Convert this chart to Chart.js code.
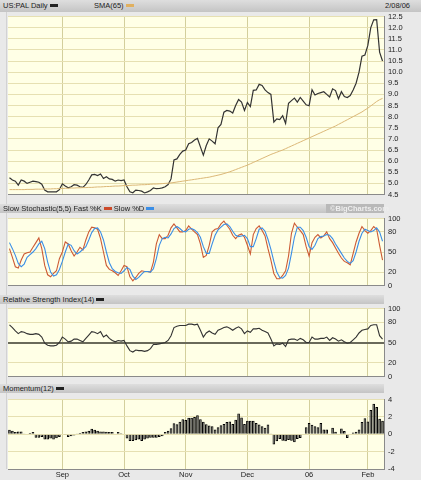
<!DOCTYPE html>
<html>
<head>
<meta charset="utf-8">
<script src="https://cdn.jsdelivr.net/npm/chart.js@4"></script>
<style>
  body { margin: 0; background: #e9e9e9; }
  #wrap { position: relative; width: 421px; height: 480px; overflow: hidden; background: #e9e9e9;
          font-family: "Liberation Sans", Arial, sans-serif; font-size: 7.5px; color: #222; }
  #wrap canvas { position: absolute; left: 8px; }
  .hdr { position: absolute; left: 0; height: 9px; line-height: 9px; padding-left: 3px; box-sizing: border-box;
         background: linear-gradient(#dedede, #c4c4c4); white-space: nowrap; z-index: 2; }
  .sw { display: inline-block; width: 8px; height: 3px; vertical-align: middle; margin: 0 2px 1px 2px; }
  .strip { position: absolute; left: 6px; top: 12px; width: 1px; height: 457px; background: #d2d2d2; }
</style>
</head>
<body>
<div id="wrap">
  <div class="strip"></div>
  <div class="hdr" style="top:0;height:12px;line-height:12px;width:421px;">US:PAL Daily<span class="sw" style="background:#222"></span>
    <span style="position:absolute;left:94px;">SMA(65)<span class="sw" style="background:#e0b060"></span></span>
    <span style="position:absolute;left:385px;">2/08/06</span></div>
  <div class="hdr" style="top:204px;width:384px;">Slow Stochastic(5,5) Fast %K<span class="sw" style="background:#cc4a2a"></span>Slow %D<span class="sw" style="background:#3a8ee6"></span>
    <span style="position:absolute;left:326px;top:0;width:58px;height:9px;background:#b9b9b9;color:#eee;font-weight:bold;padding-left:4px;box-sizing:border-box;">©BigCharts.com</span></div>
  <div class="hdr" style="top:295px;width:384px;">Relative Strength Index(14)<span class="sw" style="background:#222"></span></div>
  <div class="hdr" style="top:384px;width:384px;">Momentum(12)<span class="sw" style="background:#222"></span></div>

  <canvas id="price" width="413" height="195" style="top:8px"></canvas>
  <canvas id="stoch" width="413" height="84" style="top:210px"></canvas>
  <canvas id="rsi" width="413" height="85" style="top:300px"></canvas>
  <canvas id="mom" width="413" height="89" style="top:391px"></canvas>
</div>
<script>
// month grid lines sit on these trading-day indexes (Aug 8 2005 = 0 ... Feb 8 2006 = 127)
const monthStarts = [18, 39, 60, 81, 102, 122];
const monthLabels = ['Sep', 'Oct', 'Nov', 'Dec', '06', 'Feb'];

const price = [
  5.25, 5.15, 5.10, 4.92, 5.15, 5.10, 5.00, 5.05, 5.10, 5.08,
  5.05, 4.96, 4.70, 4.62, 4.62, 4.62, 4.62, 4.72, 4.98, 4.88,
  4.80, 4.85, 4.94, 4.92, 4.85, 4.82, 4.95, 5.15, 5.38, 5.40,
  5.35, 5.42, 5.22, 5.30, 5.20, 5.18, 5.10, 5.15, 5.12, 5.15,
  4.85, 4.62, 4.58, 4.70, 4.68, 4.65, 4.57, 4.62, 4.68, 4.80,
  4.76, 4.77, 4.80, 4.85, 4.95, 5.20, 6.05, 6.10, 6.30, 6.45,
  6.50, 6.78, 6.84, 6.95, 7.02, 6.64, 6.27, 6.70, 7.00, 6.90,
  6.78, 7.50, 7.65, 8.20, 8.28, 8.25, 8.16, 8.50, 8.77, 8.65,
  8.28, 8.63, 8.45, 9.18, 9.20, 9.45, 9.40, 9.20, 9.08, 9.00,
  7.75, 7.90, 7.87, 8.04, 7.70, 8.60, 8.72, 8.83, 8.65, 8.86,
  8.70, 8.53, 8.49, 9.21, 8.97, 9.04, 9.08, 9.12, 9.00, 8.88,
  9.25, 9.17, 8.80, 9.12, 8.90, 8.86, 8.95, 9.20, 9.50, 10.00,
  10.72, 10.77, 11.20, 12.00, 12.35, 12.36, 10.90, 10.50
];
const sma65 = [
  4.72, 4.72, 4.72, 4.72, 4.72, 4.72, 4.73, 4.73, 4.73, 4.74,
  4.74, 4.74, 4.75, 4.75, 4.75, 4.76, 4.76, 4.77, 4.77, 4.78,
  4.78, 4.79, 4.79, 4.80, 4.80, 4.81, 4.81, 4.82, 4.82, 4.83,
  4.84, 4.84, 4.85, 4.86, 4.86, 4.87, 4.88, 4.88, 4.89, 4.90,
  4.90, 4.91, 4.92, 4.92, 4.93, 4.94, 4.94, 4.95, 4.96, 4.97,
  4.97, 4.98, 4.99, 5.00, 5.01, 5.02, 5.04, 5.06, 5.08, 5.10,
  5.12, 5.14, 5.16, 5.18, 5.20, 5.22, 5.24, 5.26, 5.28, 5.31,
  5.34, 5.37, 5.40, 5.44, 5.48, 5.52, 5.57, 5.62, 5.67, 5.72,
  5.77, 5.82, 5.88, 5.94, 6.00, 6.06, 6.12, 6.18, 6.24, 6.30,
  6.35, 6.40, 6.45, 6.50, 6.56, 6.62, 6.68, 6.74, 6.80, 6.86,
  6.92, 6.98, 7.04, 7.10, 7.16, 7.22, 7.28, 7.34, 7.40, 7.46,
  7.52, 7.58, 7.65, 7.72, 7.79, 7.86, 7.93, 8.00, 8.07, 8.14,
  8.21, 8.30, 8.38, 8.48, 8.58, 8.68, 8.76, 8.82
];
const fastK = [
  55, 42, 28, 26, 38, 47, 49, 50, 57, 64,
  71, 55, 30, 16, 13, 18, 22, 40, 50, 65,
  62, 52, 44, 50, 57, 53, 68, 80, 87, 86,
  84, 70, 50, 30, 24, 22, 19, 15, 22, 30,
  28, 13, 7, 12, 18, 22, 21, 21, 20, 35,
  62, 76, 70, 70, 75, 86, 92, 86, 80, 80,
  82, 89, 84, 80, 76, 62, 42, 45, 60, 80,
  84, 85, 92, 96, 90, 84, 75, 70, 75, 77,
  72, 60, 47, 76, 85, 89, 82, 74, 55, 38,
  18, 10, 10, 15, 22, 44, 78, 93, 87, 82,
  76, 58, 44, 64, 72, 76, 71, 74, 80, 70,
  64, 56, 48, 41, 36, 34, 31, 48, 65, 78,
  88, 82, 78, 82, 88, 84, 60, 38
];
const slowD = [
  64, 55, 45, 33, 28, 32, 42, 46, 50, 55,
  62, 66, 55, 35, 20, 14, 16, 24, 36, 50,
  62, 60, 52, 47, 50, 54, 58, 68, 79, 85,
  86, 80, 68, 50, 34, 25, 21, 19, 18, 22,
  27, 24, 14, 9, 12, 17, 21, 21, 20, 25,
  40, 60, 70, 72, 71, 77, 85, 88, 85, 81,
  80, 84, 85, 83, 79, 72, 58, 48, 48, 62,
  75, 83, 87, 91, 92, 88, 81, 75, 73, 74,
  75, 70, 58, 58, 70, 84, 86, 81, 69, 54,
  36, 20, 12, 11, 15, 26, 48, 72, 87, 87,
  82, 72, 58, 54, 60, 70, 73, 74, 76, 75,
  70, 62, 55, 48, 41, 36, 33, 37, 50, 66,
  78, 84, 82, 80, 82, 86, 80, 66
];
const rsi14 = [
  76, 72, 67, 63, 66, 65, 63, 62, 62, 63,
  62, 58, 49, 46, 45, 45, 46, 50, 58, 55,
  51, 52, 55, 55, 53, 51, 56, 61, 66, 65,
  63, 66, 58, 61, 56, 53, 51, 53, 52, 53,
  45, 38, 36, 39, 38, 38, 37, 38, 41, 47,
  47, 48, 49, 50, 53, 60, 72, 74, 75, 75,
  75, 77, 77, 76, 77, 68, 58, 64, 67, 64,
  62, 68, 70, 72, 73, 71, 68, 71, 73, 70,
  63, 67, 65, 70, 70, 71, 68, 66, 64, 55,
  45, 48, 47, 49, 44, 54, 55, 55, 53, 56,
  54, 50, 50, 58, 55, 55, 56, 56, 58, 53,
  57, 55, 52, 54, 51, 49, 50, 54, 58, 64,
  68, 69, 70, 75, 76, 76, 60, 55
];
const momentum = [
  0.52, 0.40, 0.26, 0.33, 0.33, 0.10, 0.07, 0.15, 0.26, -0.40,
  -0.40, -0.33, -0.60, -0.60, -0.50, -0.60, -0.45, -0.33, 0.00, -0.10,
  -0.33, -0.22, -0.15, 0.04, 0.15, 0.26, 0.33, 0.40, 0.63, 0.52,
  0.40, 0.33, 0.33, 0.30, 0.26, 0.26, 0.07, 0.26, 0.11, 0.07,
  -0.50, -0.78, -0.78, -0.70, -0.60, -0.78, -0.60, -0.50, -0.40, -0.40,
  -0.40, -0.33, -0.22, 0.26, 0.40, 0.70, 1.26, 1.15, 1.44, 1.74,
  1.63, 1.89, 1.89, 2.00, 2.19, 1.74, 1.44, 1.15, 1.00, 0.93,
  0.55, 0.80, 1.04, 1.19, 1.40, 1.48, 1.19, 1.67, 2.40, 1.93,
  1.19, 1.56, 1.56, 1.56, 1.30, 1.11, 0.93, 0.74, 1.11, 0.02,
  -1.19, -0.81, -0.56, -0.74, -0.81, -0.67, -0.74, -0.93, -0.56, -0.44,
  0.05, 0.81, 1.30, 1.10, 0.93, 0.81, 1.30, 0.56, 0.56, 0.05,
  0.74, 0.30, -0.07, 0.67, 0.37, -0.44, 0.07, 0.19, 0.30, 0.56,
  1.40, 1.85, 1.48, 2.78, 3.50, 3.15, 1.78, 1.56
];

const priceTicks = [4.5, 5, 5.5, 6, 6.5, 7, 7.5, 8, 8.5, 9, 9.5, 10, 10.5, 11, 11.5, 12, 12.5];
const oscTicks = [0, 20, 50, 80, 100];
const momTicks = [-4, -2, 0, 2, 4];

Chart.defaults.font.family = '"Liberation Sans", Arial, sans-serif';
Chart.defaults.font.size = 7.5;
Chart.defaults.color = '#222';

const xy = arr => arr.map((v, i) => ({ x: i, y: v }));

// cream plot background
const cream = {
  id: 'cream',
  beforeDraw(c) {
    const a = c.chartArea, g = c.ctx;
    g.save();
    g.fillStyle = '#ffffe6';
    g.fillRect(a.left, a.top, a.width, a.height);
    g.restore();
  }
};

function xScale(showLabels) {
  return {
    type: 'linear', min: -0.5, max: price.length - 0.5, offset: false,
    afterBuildTicks: s => { s.ticks = monthStarts.map(v => ({ value: v })); },
    afterFit: s => { s.height = showLabels ? 11 : 0; },
    ticks: { display: showLabels, autoSkip: false, maxRotation: 0, padding: 1,
             callback: v => monthLabels[monthStarts.indexOf(v)] },
    grid: { color: '#d3cf9c', drawTicks: false, offset: false },
    border: { color: '#8a8a8a' }
  };
}

function yScale(min, max, ticks, fmt, gridColor, gridWidth) {
  return {
    position: 'right', min: min, max: max,
    afterBuildTicks: s => { s.ticks = ticks.map(v => ({ value: v })); },
    afterFit: s => { s.width = 37; },
    ticks: { padding: 4, autoSkip: false, callback: fmt },
    grid: { color: gridColor, lineWidth: gridWidth || 1, drawTicks: false },
    border: { color: '#8a8a8a' }
  };
}

function base(scales, pad) {
  return {
    responsive: false, animation: false, devicePixelRatio: 1,
    layout: { padding: pad },
    plugins: { legend: { display: false }, tooltip: { enabled: false } },
    elements: { point: { radius: 0 }, line: { tension: 0 } },
    scales: scales
  };
}

new Chart(document.getElementById('price'), {
  type: 'line',
  data: { datasets: [
    { data: xy(sma65), borderColor: '#dcb878', borderWidth: 1 },
    { data: xy(price), borderColor: '#333', borderWidth: 1.2 }
  ] },
  options: base({
    x: xScale(false),
    y: yScale(4.5, 12.5, priceTicks, v => v.toFixed(1), '#e6e0b2')
  }, { top: 5.5, bottom: 6, left: 0, right: 0 }),
  plugins: [cream]
});

new Chart(document.getElementById('stoch'), {
  type: 'line',
  data: { datasets: [
    { data: xy(slowD), borderColor: '#3a8ee6', borderWidth: 1.1 },
    { data: xy(fastK), borderColor: '#cc5a34', borderWidth: 1.1 }
  ] },
  options: base({
    x: xScale(false),
    y: yScale(0, 100, oscTicks, v => v, c => c.tick.value === 0 ? 'rgba(0,0,0,0)' : '#e6e0b2')
  }, { top: 6, bottom: 6, left: 0, right: 0 }),
  plugins: [cream]
});

new Chart(document.getElementById('rsi'), {
  type: 'line',
  data: { datasets: [
    { data: xy(rsi14), borderColor: '#333', borderWidth: 1.1 }
  ] },
  options: base({
    x: xScale(false),
    y: yScale(0, 100, oscTicks, v => v,
      c => c.tick.value === 50 ? '#6a6a5a' : (c.tick.value === 0 ? 'rgba(0,0,0,0)' : '#e6e0b2'),
      c => c.tick.value === 50 ? 2 : 1)
  }, { top: 6, bottom: 6, left: 0, right: 0 }),
  plugins: [cream]
});

new Chart(document.getElementById('mom'), {
  type: 'bar',
  data: { datasets: [
    { data: xy(momentum), backgroundColor: '#555', borderColor: '#000', borderWidth: 1,
      barPercentage: 0.9, categoryPercentage: 1 }
  ] },
  options: base({
    x: xScale(true),
    y: yScale(-4, 4, momTicks, v => v, '#e6e0b2')
  }, { top: 6, bottom: 0, left: 0, right: 0 }),
  plugins: [cream]
});
</script>
</body>
</html>
